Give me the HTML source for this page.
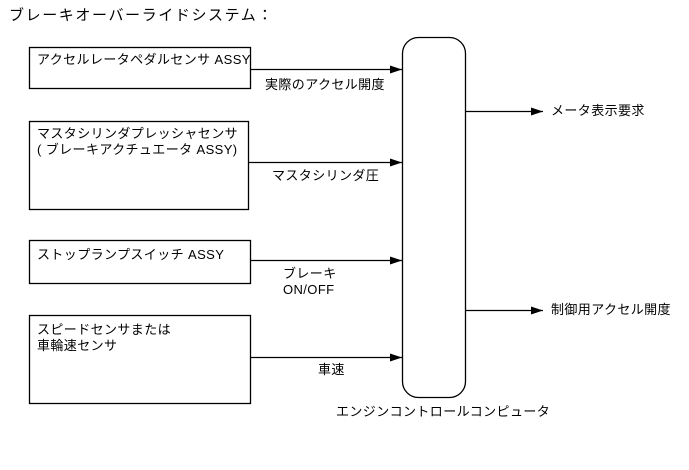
<!DOCTYPE html>
<html><head><meta charset="utf-8"><style>
body{margin:0;background:#fff;}
svg text{font-family:"Liberation Sans","Noto Sans CJK JP",sans-serif;font-size:13px;letter-spacing:0.4px;fill:#000;}
</style></head><body>
<svg width="689" height="465" viewBox="0 0 689 465" xmlns="http://www.w3.org/2000/svg">
<defs><marker id="a" markerWidth="12" markerHeight="8" refX="12" refY="4" orient="auto" markerUnits="userSpaceOnUse"><path d="M0,0L12,4L0,8z" fill="#000"/></marker></defs>
<text x="9" y="20" style="font-size:15px;letter-spacing:1.6px">ブレーキオーバーライドシステム：</text>
<g fill="none" stroke="#000" stroke-width="1.3">
<rect x="29.5" y="47.5" width="221" height="41"/>
<rect x="29.5" y="121.5" width="219" height="88"/>
<rect x="29.5" y="240.5" width="221" height="43"/>
<rect x="29.5" y="315.5" width="221" height="88"/>
<rect x="402.5" y="37.5" width="63" height="360" rx="16"/>
<line x1="250" y1="69.5" x2="402" y2="69.5" marker-end="url(#a)"/>
<line x1="248" y1="162.5" x2="402" y2="162.5" marker-end="url(#a)"/>
<line x1="250" y1="260.5" x2="402" y2="260.5" marker-end="url(#a)"/>
<line x1="250" y1="357.5" x2="402" y2="357.5" marker-end="url(#a)"/>
<line x1="466" y1="111.5" x2="543" y2="111.5" marker-end="url(#a)"/>
<line x1="466" y1="310.5" x2="543" y2="310.5" marker-end="url(#a)"/>
</g>
<text x="37" y="64">アクセルレータペダルセンサ ASSY</text>
<text x="37" y="138">マスタシリンダプレッシャセンサ</text>
<text x="37" y="154">( ブレーキアクチュエータ ASSY)</text>
<text x="37" y="259">ストップランプスイッチ ASSY</text>
<text x="37" y="334">スピードセンサまたは</text>
<text x="37" y="350">車輪速センサ</text>
<text x="265" y="89">実際のアクセル開度</text>
<text x="272" y="180">マスタシリンダ圧</text>
<text x="283" y="278">ブレーキ</text>
<text x="283" y="294">ON/OFF</text>
<text x="318" y="374">車速</text>
<text x="551" y="115">メータ表示要求</text>
<text x="551" y="314">制御用アクセル開度</text>
<text x="336" y="416">エンジンコントロールコンピュータ</text>
</svg>
</body></html>
